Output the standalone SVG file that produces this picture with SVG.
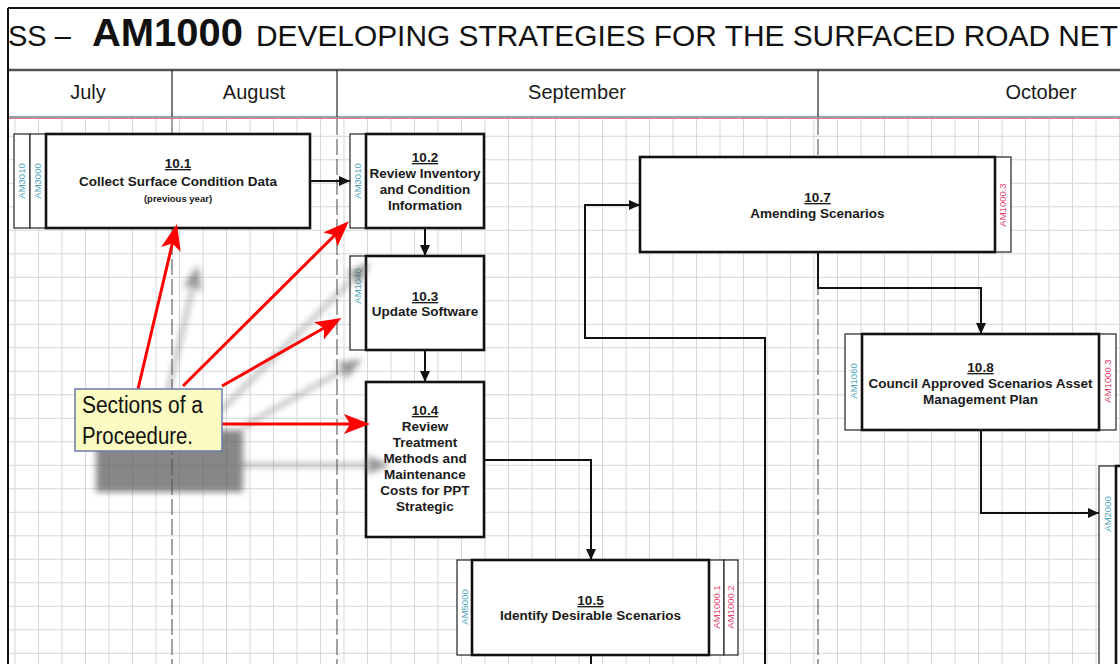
<svg xmlns="http://www.w3.org/2000/svg" width="1120" height="664" viewBox="0 0 1120 664">
<defs>
  <pattern id="grid" x="14.5" y="18.3" width="23.5" height="23.5" patternUnits="userSpaceOnUse">
    <path d="M0,0.5 H23.5 M0.5,0 V23.5" stroke="#d6d6d6" stroke-width="1" fill="none"/>
  </pattern>
  <marker id="ah" markerUnits="userSpaceOnUse" markerWidth="12" markerHeight="12" refX="11" refY="6" orient="auto" viewBox="0 0 12 12">
    <path d="M0,1 L11,6 L0,11 z" fill="#111"/>
  </marker>
  <marker id="rah" markerUnits="userSpaceOnUse" markerWidth="26" markerHeight="20" refX="22" refY="10" orient="auto" viewBox="0 0 26 20">
    <path d="M0,0 L26,10 L0,20 L6,10 z" fill="#ff0000"/>
  </marker>
  <marker id="gah" markerUnits="userSpaceOnUse" markerWidth="26" markerHeight="20" refX="22" refY="10" orient="auto" viewBox="0 0 26 20">
    <path d="M0,0 L26,10 L0,20 L6,10 z" fill="#666"/>
  </marker>
  <filter id="blur" x="-30%" y="-30%" width="160%" height="160%">
    <feGaussianBlur stdDeviation="3"/>
  </filter>
</defs>
<style>
  .box{fill:#fff;stroke:#111;stroke-width:2.6}
  .tab{fill:#fff;stroke:#222;stroke-width:1.2}
  .t{font-family:"Liberation Sans",Arial,sans-serif;font-weight:bold;font-size:13.5px;fill:#1a1a1a;text-anchor:middle}
  .num{text-decoration:underline}
  .small{font-size:9.5px}
  .lab{font-family:"Liberation Sans",Arial,sans-serif;font-size:9.5px;text-anchor:middle}
  .teal{fill:#4aa6ba}
  .pink{fill:#e2406a}
  .con{fill:none;stroke:#111;stroke-width:2;marker-end:url(#ah)}
  .line{fill:none;stroke:#111;stroke-width:2}
  .dash{stroke:#444;stroke-width:1;stroke-dasharray:16 4}
  .month{font-family:"Liberation Sans",Arial,sans-serif;font-size:20px;fill:#1a1a1a;text-anchor:middle}
  .red{fill:none;stroke:#ff0000;stroke-width:3;marker-end:url(#rah)}
  .gray{fill:none;stroke:#666;stroke-width:3;marker-end:url(#gah)}
  .note{font-family:"Liberation Sans",Arial,sans-serif;font-size:23px;fill:#111}
</style>

<rect x="0" y="0" width="1120" height="664" fill="#fff"/>

<!-- title and header -->
<g id="header">
  <text x="8" y="46" font-family="'Liberation Sans',Arial,sans-serif" font-size="29" fill="#111">SS –</text>
  <text x="92" y="46" font-family="'Liberation Sans',Arial,sans-serif" font-size="38" font-weight="bold" fill="#111" textLength="151" lengthAdjust="spacingAndGlyphs">AM1000</text>
  <text x="256" y="46" font-family="'Liberation Sans',Arial,sans-serif" font-size="29" fill="#111" textLength="862" lengthAdjust="spacingAndGlyphs">DEVELOPING STRATEGIES FOR THE SURFACED ROAD NET</text>
  <line x1="8" y1="8" x2="1120" y2="8" stroke="#111" stroke-width="2"/>
  <line x1="8" y1="70" x2="1120" y2="70" stroke="#555" stroke-width="2.5"/>
  <line x1="172" y1="70" x2="172" y2="117" stroke="#222" stroke-width="1.2"/>
  <line x1="337" y1="70" x2="337" y2="117" stroke="#222" stroke-width="1.2"/>
  <line x1="818" y1="70" x2="818" y2="117" stroke="#222" stroke-width="1.2"/>
  <text class="month" x="88" y="99">July</text>
  <text class="month" x="254" y="99">August</text>
  <text class="month" x="577" y="99">September</text>
  <text class="month" x="1041" y="99">October</text>
</g>

<!-- grid -->
<rect x="9" y="119" width="1111" height="545" fill="url(#grid)"/>
<line x1="8" y1="117" x2="1120" y2="117" stroke="#444" stroke-width="1"/>
<line x1="8" y1="118.5" x2="1120" y2="118.5" stroke="#e07a8a" stroke-width="1"/>
<line class="dash" x1="172" y1="119" x2="172" y2="664"/>
<line class="dash" x1="337" y1="119" x2="337" y2="664"/>
<line class="dash" x1="818" y1="119" x2="818" y2="664"/>
<line x1="8" y1="8" x2="8" y2="664" stroke="#111" stroke-width="2"/>

<!-- connectors -->
<g id="connectors">
  <path class="con" d="M310,181 H350"/>
  <path class="con" d="M425,229 V256"/>
  <path class="con" d="M425,350 V382"/>
  <path class="con" d="M484,460 H591 V560"/>
  <path class="line" d="M591,655 V664"/>
  <path class="con" d="M765,664 V338 H585 V205 H640"/>
  <path class="con" d="M818,252 V288 H981 V334"/>
  <path class="con" d="M981,430 V513 H1099"/>
</g>

<!-- nodes -->
<g id="n10_1">
  <rect class="tab" x="14" y="134" width="16" height="94"/>
  <rect class="tab" x="30" y="134" width="16" height="94"/>
  <rect class="box" x="46" y="134" width="264" height="94"/>
  <text class="lab teal" transform="translate(22,181) rotate(-90)" dy="3.4">AM3010</text>
  <text class="lab teal" transform="translate(38,181) rotate(-90)" dy="3.4">AM3000</text>
  <text class="t num" x="178" y="168">10.1</text>
  <text class="t" x="178" y="186">Collect Surface Condition Data</text>
  <text class="t small" x="178" y="202">(previous year)</text>
</g>

<g id="n10_2">
  <rect class="tab" x="350" y="134" width="16" height="94"/>
  <rect class="box" x="366" y="134" width="118" height="94"/>
  <text class="lab teal" transform="translate(358,181) rotate(-90)" dy="3.4">AM3010</text>
  <text class="t num" x="425" y="162">10.2</text>
  <text class="t" x="425" y="178">Review Inventory</text>
  <text class="t" x="425" y="194">and Condition</text>
  <text class="t" x="425" y="210">Information</text>
</g>

<g id="n10_3">
  <rect class="tab" x="350" y="256" width="16" height="94"/>
  <rect class="box" x="366" y="256" width="118" height="94"/>
  <text class="lab teal" transform="translate(358,286) rotate(-90)" dy="3.4">AM1040</text>
  <text class="t num" x="425" y="301">10.3</text>
  <text class="t" x="425" y="316">Update Software</text>
</g>

<g id="n10_4">
  <rect class="box" x="366" y="382" width="118" height="155"/>
  <text class="t num" x="425" y="415">10.4</text>
  <text class="t" x="425" y="431">Review</text>
  <text class="t" x="425" y="447">Treatment</text>
  <text class="t" x="425" y="463">Methods and</text>
  <text class="t" x="425" y="479">Maintenance</text>
  <text class="t" x="425" y="495">Costs for PPT</text>
  <text class="t" x="425" y="511">Strategic</text>
</g>

<g id="n10_5">
  <rect class="tab" x="457" y="560" width="15" height="95"/>
  <rect class="tab" x="709" y="560" width="15" height="95"/>
  <rect class="tab" x="724" y="560" width="14" height="95"/>
  <rect class="box" x="472" y="560" width="237" height="95"/>
  <text class="lab teal" transform="translate(465,607) rotate(-90)" dy="3.4">AM5000</text>
  <text class="lab pink" transform="translate(716.5,607) rotate(-90)" dy="3.4">AM1000.1</text>
  <text class="lab pink" transform="translate(731,607) rotate(-90)" dy="3.4">AM1000.2</text>
  <text class="t num" x="590.5" y="605">10.5</text>
  <text class="t" x="590.5" y="620">Identify Desirable Scenarios</text>
</g>

<g id="n10_7">
  <rect class="tab" x="995" y="157" width="16" height="95"/>
  <rect class="box" x="640" y="157" width="355" height="95"/>
  <text class="lab pink" transform="translate(1003,205) rotate(-90)" dy="3.4">AM1000.3</text>
  <text class="t num" x="817.5" y="202">10.7</text>
  <text class="t" x="817.5" y="218">Amending Scenarios</text>
</g>

<g id="n10_8">
  <rect class="tab" x="845" y="334" width="17" height="96"/>
  <rect class="tab" x="1099" y="334" width="17" height="96"/>
  <rect class="box" x="862" y="334" width="237" height="96"/>
  <text class="lab teal" transform="translate(853.5,381) rotate(-90)" dy="3.4">AM1060</text>
  <text class="lab pink" transform="translate(1107.5,381) rotate(-90)" dy="3.4">AM1000.3</text>
  <text class="t num" x="980.5" y="372">10.8</text>
  <text class="t" x="980.5" y="388">Council Approved Scenarios Asset</text>
  <text class="t" x="980.5" y="404">Management Plan</text>
</g>

<g id="n_am2000">
  <rect class="tab" x="1099" y="466" width="17" height="210"/>
  <rect class="box" x="1116" y="466" width="20" height="210"/>
  <text class="lab teal" transform="translate(1107.5,514) rotate(-90)" dy="3.4">AM2000</text>
</g>

<!-- callout shadow -->
<g id="callout-shadow" filter="url(#blur)" transform="translate(21,41)" opacity="0.7">
  <rect x="75" y="389" width="147" height="62" fill="#555"/>
  <path class="gray" d="M138,389 L176,228"/>
  <path class="gray" d="M183,386 L346,224"/>
  <path class="gray" d="M222,386 L338,320"/>
  <path class="gray" d="M221,424 L366,424"/>
</g>

<!-- callout -->
<g id="callout">
  <path class="red" d="M138,389 L176,228"/>
  <path class="red" d="M183,386 L346,224"/>
  <path class="red" d="M222,386 L338,320"/>
  <path class="red" d="M221,424 L366,424"/>
  <rect x="75" y="389" width="147" height="62" fill="#fbfbc2" stroke="#6b7bb0" stroke-width="1.5"/>
  <text class="note" x="82" y="413" textLength="121" lengthAdjust="spacingAndGlyphs">Sections of a</text>
  <text class="note" x="82" y="444" textLength="111" lengthAdjust="spacingAndGlyphs">Proceedure.</text>
</g>
</svg>
